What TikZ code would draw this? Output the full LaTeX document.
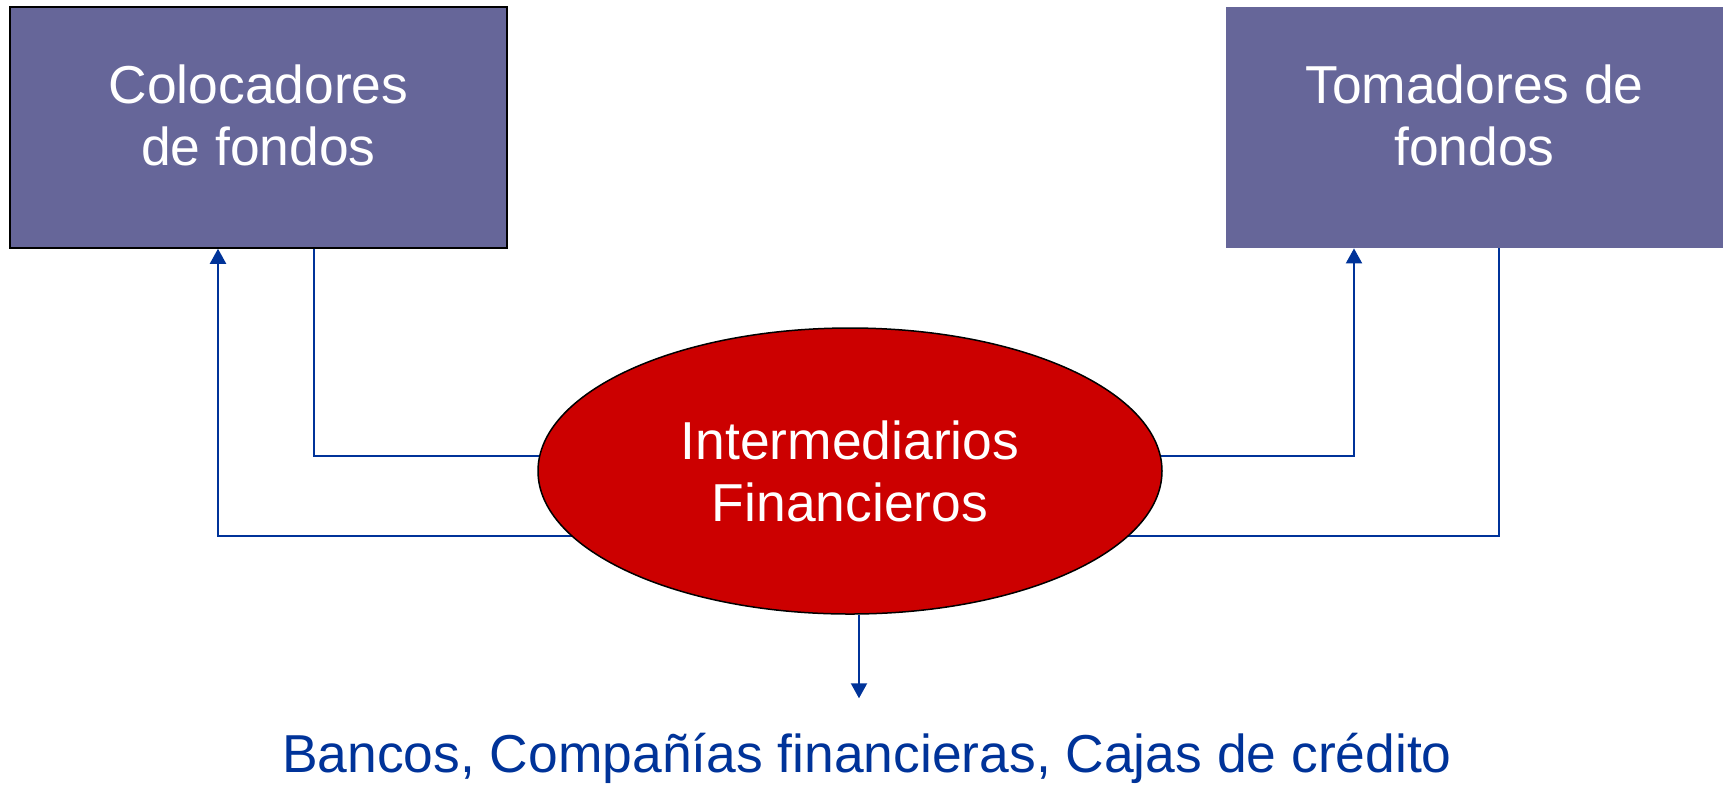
\documentclass[tikz,border=0pt]{standalone}
\usepackage{fontspec}
\setmainfont{Liberation Sans}
\usepackage{xcolor}
\usepackage{tikz}
\usetikzlibrary{arrows.meta,backgrounds,positioning,shapes.geometric}

\definecolor{boxfill}{HTML}{666699}
\definecolor{ellred}{HTML}{CC0000}
\definecolor{linkblue}{HTML}{003399}

\begin{document}
\begin{tikzpicture}[x=0.5pt,y=-0.5pt,
  fondo/.style={fill=boxfill,minimum width=248.5pt,minimum height=120.5pt,inner sep=0pt},
  rotulo/.style={text=white,align=center,font=\fontsize{26.7}{31}\selectfont},
  link/.style={draw=linkblue,line width=1pt},
  flecha/.style={link,-{Triangle[length=7.5pt,width=8pt]}}]
  \useasboundingbox (0,0) rectangle (1725,784);
  \node [fondo,draw=black,line width=0.75pt] (col) at (258.5,127.5) {};
  \node [fondo] (tom) at (1474.5,127.5) {};
  \node [rotulo] (colt) at ([yshift=6pt]col.center) {Colocadores\\de fondos};
  \node [rotulo] (tomt) at ([yshift=6pt]tom.center) {Tomadores de\\fondos};
  \node [rotulo,ellipse,fill=ellred,draw=black,line width=0.75pt,
         minimum width=312pt,minimum height=143pt,inner sep=0pt] (ell) at (850,471)
        {Intermediarios\\Financieros};
  \node [text=linkblue,font=\fontsize{26.7}{31}\selectfont,anchor=base,inner sep=0pt] (bancos)
        at (867,772) {Bancos, Compañías financieras, Cajas de crédito};
  \draw [flecha,shorten >=17pt] ([xshift=4.5pt]ell.south) -- ([xshift=4.5pt]ell.south |- bancos.north);
  \begin{scope}[on background layer]
    \draw [link] ([xshift=27.75pt]col.south) |- ([yshift=7.5pt]ell.center);
    \draw [flecha] ([yshift=-32.5pt]ell.center) -| ([xshift=-20.25pt]col.south);
    \draw [flecha] ([yshift=7.5pt]ell.center) -| ([xshift=-60.25pt]tom.south);
    \draw [link] ([xshift=12.25pt]tom.south) |- ([yshift=-32.5pt]ell.center);
  \end{scope}
\end{tikzpicture}
\end{document}
